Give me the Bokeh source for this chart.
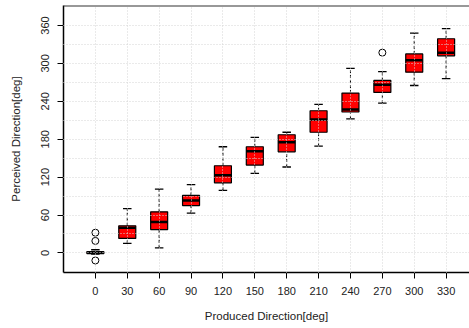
from bokeh.plotting import figure
from bokeh.models import Range1d, FixedTicker, ColumnDataSource, Span
from bokeh.embed import file_html
from bokeh.resources import INLINE

# Produced direction categories (deg)
produced = [0, 30, 60, 90, 120, 150, 180, 210, 240, 270, 300, 330]
# Box-plot statistics of perceived direction (deg)
lower = [-2, 15, 8, 63, 99, 126, 136, 169, 212, 237, 265, 276]
q1 = [-1, 23, 37, 75, 111, 139, 160, 191, 223, 254, 286, 312]
median = [1, 40, 49, 83, 123, 161, 175, 211, 227, 266, 305, 317]
q3 = [2, 43, 65, 91, 138, 168, 187, 225, 253, 273, 315, 339]
upper = [5, 70, 101, 108, 168, 183, 191, 235, 292, 287, 348, 355]
# Outliers
outlier_x = [0, 0, 0, 270]
outlier_y = [32, 19, -12, 317]

y_ticks = [0, 60, 120, 180, 240, 300, 360]
y_grid = [0, 30, 60, 90, 120, 150, 180, 210, 240, 270, 300, 330, 360]

BOX_W = 16
CAP_W = 8
FONT = "Liberation Sans"

src = ColumnDataSource(dict(
    x=produced, lower=lower, q1=q1, med=median, q3=q3, upper=upper,
    cl=[v - CAP_W / 2 for v in produced], cr=[v + CAP_W / 2 for v in produced],
    bl=[v - BOX_W / 2 for v in produced], br=[v + BOX_W / 2 for v in produced],
))

x_lo, x_hi = -30, 352
y_lo, y_hi = -31, 391.6

p = figure(width=469, height=328, output_backend="svg", toolbar_location=None,
           x_range=Range1d(x_lo, x_hi), y_range=Range1d(y_lo, y_hi),
           min_border_left=63, min_border_right=0, min_border_top=5,
           min_border_bottom=56, background_fill_color="white",
           border_fill_color="white")
p.outline_line_color = None

# whiskers
p.segment(x0="x", y0="q3", x1="x", y1="upper", source=src, line_color="black",
          line_width=1, line_dash="3 2")
p.segment(x0="x", y0="lower", x1="x", y1="q1", source=src, line_color="black",
          line_width=1, line_dash="3 2")
# caps
p.segment(x0="cl", y0="upper", x1="cr", y1="upper", source=src, line_color="black", line_width=1.3)
p.segment(x0="cl", y0="lower", x1="cr", y1="lower", source=src, line_color="black", line_width=1.3)
# boxes
p.vbar(x="x", width=BOX_W, bottom="q1", top="q3", source=src, fill_color="#ff0000",
       line_color="black", line_width=1.2)
# medians
p.segment(x0="bl", y0="med", x1="br", y1="med", source=src, line_color="black", line_width=2.5)
# outliers
p.scatter(outlier_x, outlier_y, marker="circle", size=7, fill_color=None,
          line_color="black", line_width=1)

# top frame line
p.add_layout(Span(location=y_hi, dimension="width", line_color="#333333", line_width=2))

# grids (dotted, drawn over boxes)
p.xgrid.ticker = FixedTicker(ticks=produced)
p.ygrid.ticker = FixedTicker(ticks=y_grid)
for g in (p.xgrid, p.ygrid):
    g.grid_line_color = "#d4d4d4"
    g.grid_line_dash = "1 2"
    g.grid_line_width = 1
    g.level = "overlay"

# axes
p.xaxis.ticker = FixedTicker(ticks=produced)
p.yaxis.ticker = FixedTicker(ticks=y_ticks)
p.yaxis.major_label_orientation = "vertical"
p.xaxis.axis_label = "Produced Direction[deg]"
p.yaxis.axis_label = "Perceived Direction[deg]"
for ax in (p.xaxis, p.yaxis):
    ax.axis_line_color = "black"
    ax.axis_line_width = 1.5
    ax.major_tick_line_color = "black"
    ax.major_tick_in = 0
    ax.major_tick_out = 6
    ax.minor_tick_line_color = None
    ax.major_label_text_font = FONT
    ax.major_label_text_font_size = "11px"
    ax.major_label_text_color = "#222222"
    ax.major_label_standoff = 8
    ax.axis_label_text_font = FONT
    ax.axis_label_text_font_size = "11.5px"
    ax.axis_label_text_font_style = "normal"
    ax.axis_label_text_color = "#222222"
p.xaxis.axis_label_standoff = 12
p.yaxis.axis_label_standoff = 17

open("out.html", "w").write(file_html(p, INLINE))
